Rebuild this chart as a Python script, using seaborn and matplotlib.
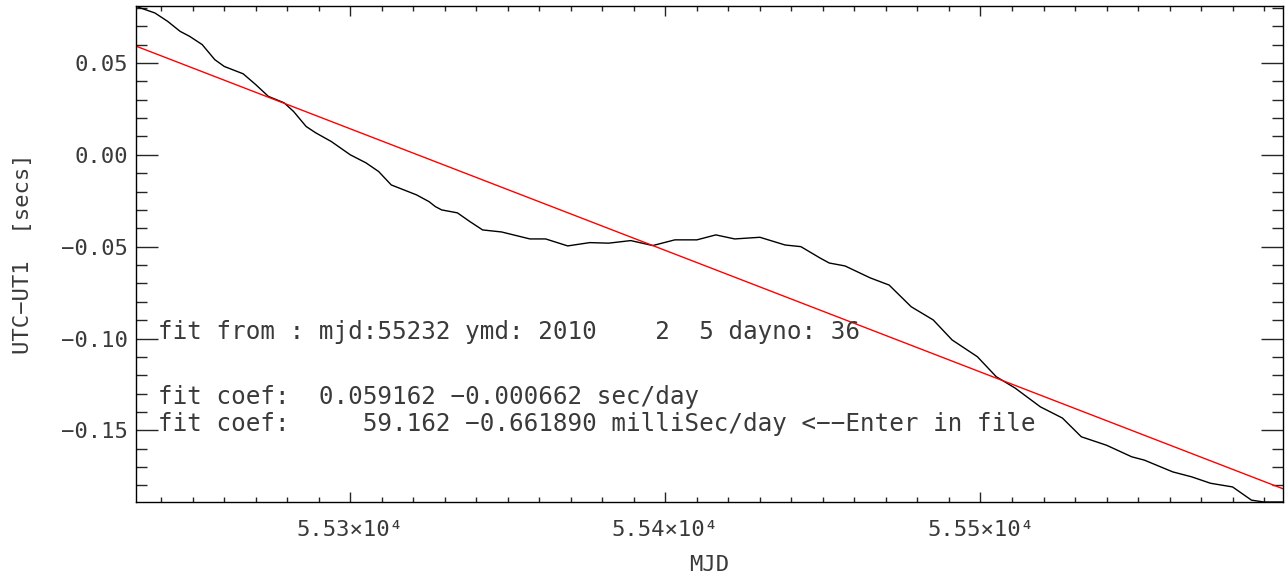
import matplotlib
matplotlib.use("Agg")
import matplotlib.pyplot as plt
from matplotlib.ticker import MultipleLocator, FuncFormatter
import seaborn as sns
import pandas as pd

# UTC-UT1 values
mjd = [55232, 55238, 55242, 55246, 55249, 55253, 55257, 55260, 55266, 55270,
       55274, 55279, 55282, 55286, 55289, 55294, 55300, 55305, 55309, 55313,
       55317, 55321, 55325, 55327, 55329, 55334, 55338, 55342, 55348, 55357,
       55362, 55369, 55376, 55382, 55389, 55396, 55403, 55410, 55416, 55422,
       55430, 55438, 55443, 55449, 55452, 55457, 55465, 55471, 55478, 55485,
       55491, 55499, 55505, 55511, 55519, 55526, 55532, 55540, 55548, 55552,
       55561, 55567, 55573, 55580, 55586, 55590, 55596]
utc_ut1 = [0.0808, 0.0772, 0.0727, 0.0672, 0.0645, 0.0600, 0.0518, 0.0481, 0.0441, 0.0382,
           0.0318, 0.0283, 0.0236, 0.0154, 0.0120, 0.0072, 0.0000, -0.0044, -0.0091, -0.0164,
           -0.0191, -0.0218, -0.0255, -0.0282, -0.0300, -0.0316, -0.0364, -0.0409, -0.0420, -0.0458,
           -0.0458, -0.0496, -0.0478, -0.0481, -0.0467, -0.0494, -0.0463, -0.0463, -0.0436, -0.0458,
           -0.0449, -0.0491, -0.0500, -0.0561, -0.0589, -0.0605, -0.0670, -0.0709, -0.0827, -0.0899,
           -0.1008, -0.1099, -0.1208, -0.1270, -0.1372, -0.1433, -0.1535, -0.1581, -0.1644, -0.1662,
           -0.1726, -0.1753, -0.1788, -0.1808, -0.1880, -0.1890, -0.1890]

# linear fit coefficients (from the annotation)
fit_start = 55232
fit_c0 = 0.059162
fit_c1 = -0.000662
fit_mjd = [55232, 55596]

annotations = [
    "fit from : mjd:55232 ymd: 2010    2  5 dayno: 36",
    "fit coef:  0.059162 \u22120.000662 sec/day",
    "fit coef:     59.162 \u22120.661890 milliSec/day <\u2212\u2212Enter in file",
]
annot_y = [-0.1005, -0.1355, -0.1505]

df = pd.DataFrame({"mjd": mjd, "val": utc_ut1})
fit_df = pd.DataFrame({"mjd": fit_mjd,
                       "val": [fit_c0 + fit_c1 * (m - fit_start) for m in fit_mjd]})

sns.set_style("ticks")
plt.rcParams["font.family"] = ["DejaVu Sans Mono", "DejaVu Sans"]
ink = "#3a3a3a"

fig = plt.figure(figsize=(12.86, 5.77), dpi=100)
ax = fig.add_axes([136 / 1286, 1 - 502 / 577, (1283 - 136) / 1286, (502 - 6) / 577])

sns.lineplot(data=df, x="mjd", y="val", ax=ax, color="black", lw=1.0,
             estimator=None, sort=False)
sns.lineplot(data=fit_df, x="mjd", y="val", ax=ax, color="red", lw=1.0,
             estimator=None, sort=False)

ax.set_xlim(55232, 55596)
ax.set_ylim(-0.189, 0.081)

ax.xaxis.set_major_locator(MultipleLocator(100))
ax.xaxis.set_minor_locator(MultipleLocator(10))
ax.yaxis.set_major_locator(MultipleLocator(0.05))
ax.yaxis.set_minor_locator(MultipleLocator(0.01))

ax.xaxis.set_major_formatter(FuncFormatter(lambda v, p: f"{v / 1e4:.2f}\u00d710\u2074"))
ax.yaxis.set_major_formatter(FuncFormatter(lambda v, p: f"{v:.2f}".replace("-", "\u2212")))

ax.tick_params(axis="y", which="major", direction="in", length=15.8, width=1,
               left=True, right=True, labelsize=16, labelcolor=ink, pad=6)
ax.tick_params(axis="y", which="minor", direction="in", length=8, width=1,
               left=True, right=True)
ax.tick_params(axis="x", which="major", direction="in", length=7.2, width=1,
               bottom=True, top=True, labelsize=16, labelcolor=ink, pad=13)
ax.tick_params(axis="x", which="minor", direction="in", length=3.6, width=1,
               bottom=True, top=True)

for s in ax.spines.values():
    s.set_visible(True)
    s.set_linewidth(1)
    s.set_color("black")

ax.set_xlabel("MJD", fontsize=16, color=ink, labelpad=11)
ax.set_ylabel("UTC\u2212UT1  [secs]", fontsize=16, color=ink, labelpad=20)

for txt, yv in zip(annotations, annot_y):
    ax.text(55239, yv, txt, fontsize=17.5, color=ink, va="baseline", ha="left")

fig.savefig("out.png", dpi=100)
